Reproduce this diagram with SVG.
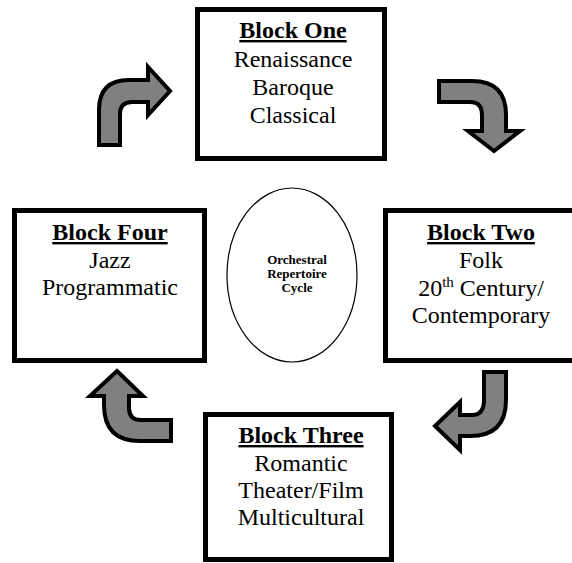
<svg xmlns="http://www.w3.org/2000/svg" width="572" height="563" viewBox="0 0 572 563">
<style>
.box{fill:#fff;stroke:#000;stroke-width:5}
.t{font-family:"Liberation Serif","Times New Roman",serif;font-size:24px;text-anchor:middle;fill:#000}
.h{font-weight:bold;text-decoration:underline}
.c{font-family:"Liberation Serif","Times New Roman",serif;font-size:13px;font-weight:bold;text-anchor:middle;fill:#000}
.arr{fill:#808080;stroke:#000;stroke-width:4;stroke-linejoin:miter}
</style>
<rect width="572" height="563" fill="#fff"/>
<g id="connectors">
<path class="arr" d="M99,145 L99,110 Q99,80 129,80 L148,80 L148,67 L170,91 L148,115 L148,102 L132,102 Q120,102 120,114 L120,145 Z"/>
<path class="arr" d="M439,81 L472,81 Q506,81 506,115 L506,131 L520,131 L494,151 L468,131 L482,131 L482,115 Q482,102 470,102 L439,102 Z"/>
<path class="arr" d="M484,372 L506,372 L506,400 Q506,436 470,436 L460,436 L460,450 L435,426 L460,402 L460,415 L472,415 Q484,415 484,400 Z"/>
<path class="arr" d="M171,420 L171,441 L140,441 Q104,441 104,405 L104,396 L90,396 L117,371 L143,396 L129,396 L129,408 Q129,420 141,420 Z"/>
</g>
<g id="block-one">
<rect class="box" x="197.5" y="9.5" width="187" height="149"/>
<text class="t h" x="293" y="38">Block One</text>
<text class="t" x="293" y="67">Renaissance</text>
<text class="t" x="293" y="95">Baroque</text>
<text class="t" x="293" y="123">Classical</text>
</g>
<g id="block-two">
<rect class="box" x="385.5" y="210.5" width="200" height="150"/>
<text class="t h" x="481" y="240">Block Two</text>
<text class="t" x="481" y="268">Folk</text>
<text class="t" x="481" y="296">20<tspan font-size="15" dy="-9">th</tspan><tspan dy="9"> Century/</tspan></text>
<text class="t" x="481" y="323">Contemporary</text>
</g>
<g id="block-three">
<rect class="box" x="205.5" y="414.5" width="186" height="145"/>
<text class="t h" x="301" y="443">Block Three</text>
<text class="t" x="301" y="471">Romantic</text>
<text class="t" x="301" y="498">Theater/Film</text>
<text class="t" x="301" y="525">Multicultural</text>
</g>
<g id="block-four">
<rect class="box" x="14.5" y="210.5" width="190" height="150"/>
<text class="t h" x="110" y="240">Block Four</text>
<text class="t" x="110" y="268">Jazz</text>
<text class="t" x="110" y="295">Programmatic</text>
</g>
<g id="center">
<ellipse cx="292" cy="275" rx="65" ry="87" fill="#fff" stroke="#000" stroke-width="1.2"/>
<text class="c" x="297" y="264">Orchestral</text>
<text class="c" x="297" y="278">Repertoire</text>
<text class="c" x="297" y="292">Cycle</text>
</g>
</svg>
